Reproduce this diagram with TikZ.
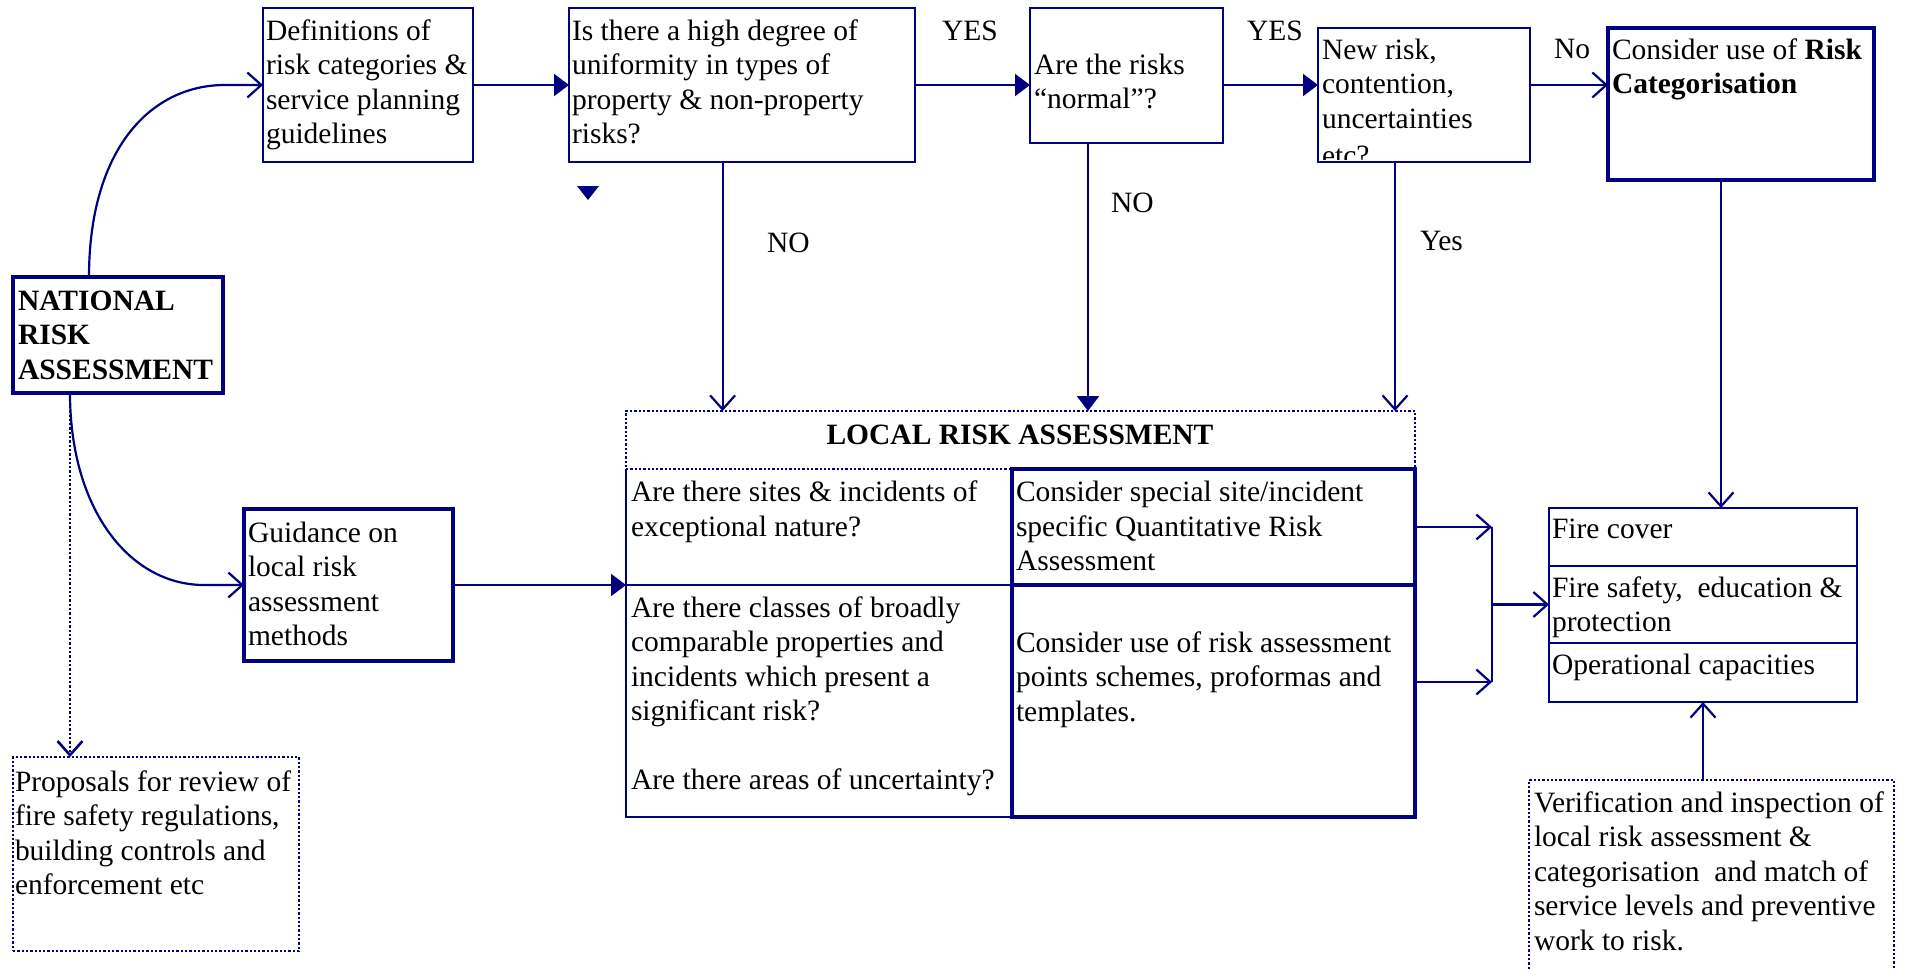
\documentclass[tikz,border=0pt]{standalone}
\usepackage{fontspec}
\setmainfont{Liberation Serif}
\usetikzlibrary{arrows.meta,calc}
\definecolor{navyline}{RGB}{0,0,128}
\newcommand\bodyfont{\fontsize{29.5}{34.5}\selectfont}
\begin{document}
\begin{tikzpicture}[x=1pt,y=-1pt,
  every node/.style={inner sep=0pt, outer sep=0pt},
  box/.style={draw=navyline, line width=2.2pt, anchor=north west},
  thickbox/.style={box, line width=4.5pt},
  dotted line/.style={line width=2.6pt, dash pattern=on 2.3pt off 2pt},
  dotbox/.style={box, dotted line},
  plainbox/.style={anchor=north west},
  txt/.style={anchor=north west, align=left, font=\bodyfont},
  lbl/.style={anchor=base west, font=\bodyfont},
  conn/.style={draw=navyline, line width=2.2pt},
  opentip/.style={conn, -{Straight Barb[length=14pt,width=25pt]}},
  filltip/.style={conn, -{Triangle[length=15pt,width=22pt]}},
]
\useasboundingbox (0,0) rectangle (1907,969);
\fill[white] (0,0) rectangle (1907,969);

% x positions of the vertical connectors
\coordinate (xa) at (89,0);
\coordinate (xn) at (70,0);
\coordinate (xq1) at (722.6,0);
\coordinate (xq2) at (1088,0);
\coordinate (xq3) at (1395,0);
\coordinate (xr) at (1721,0);
\coordinate (xm) at (1492,0);
\coordinate (xv) at (1703,0);
\coordinate (ym2) at (0,682);

% top row
\node[box, minimum width=210pt, minimum height=154pt] (def) at (263,8) {};
\node[box, minimum width=346pt, minimum height=154pt] (q1) at (569,8) {};
\node[box, minimum width=193pt, minimum height=135pt] (q2) at (1030,8) {};
\node[box, minimum width=212pt, minimum height=134pt] (q3) at (1318,28) {};
\node[thickbox, minimum width=266pt, minimum height=152pt] (rcat) at (1608,28) {};

% left column
\node[thickbox, minimum width=210pt, minimum height=116pt] (nat) at (13,277) {};
\node[thickbox, minimum width=209pt, minimum height=152pt] (guid) at (244,509) {};
\node[dotbox, minimum width=286pt, minimum height=194pt] (prop) at (13,757) {};

% local risk assessment block
\node[dotbox, minimum width=789pt, minimum height=58pt] (lra) at (626,411) {};
\node[plainbox, minimum width=386pt, minimum height=116pt] (lc1) at (626,469) {};
\node[plainbox, minimum width=386pt, minimum height=232pt] (lc2) at (626,585) {};
\draw[conn] (lc1.north west) -- (lc2.south west) -- (lc2.south east);
\draw[conn] (lc1.south west) -- (lc1.south east);
\node[thickbox, minimum width=403pt, minimum height=116pt] (rc1) at (1012,469) {};
\node[thickbox, minimum width=403pt, minimum height=232pt] (rc2) at (1012,585) {};

% outputs
\node[box, minimum width=308pt, minimum height=58pt] (fb1) at (1549,508) {};
\node[box, minimum width=308pt, minimum height=77pt] (fb2) at (1549,566) {};
\node[box, minimum width=308pt, minimum height=59pt] (fb3) at (1549,643) {};
\node[dotbox, minimum width=365pt, minimum height=210pt] (verif) at (1529,780) {};

% texts (top = first baseline - 24.15)
\node[txt] (deft) at (266,15.85) {\strut Definitions of\\risk categories \&\\service planning\\guidelines};
\node[txt] (q1t) at (572,15.85) {\strut Is there a high degree of\\uniformity in types of\\property \& non-property\\risks?};
\node[txt] (q2t) at (1034,49.85) {\strut Are the risks\\“normal”?};
\begin{scope}
  \clip (1318,28) rectangle (1530,159);
  \node[txt] (q3t) at (1322,34.85) {\strut New risk,\\contention,\\uncertainties\\[2.5pt]etc?};
\end{scope}
\node[txt] (rct) at (1612,34.85) {\strut Consider use of \textbf{Risk}\\\textbf{Categorisation}};
\node[txt, font=\bodyfont\bfseries] (natt) at (18,285.85) {\strut NATIONAL\\RISK\\ASSESSMENT};
\node[txt] (guidt) at (248,517.85) {\strut Guidance on\\local risk\\assessment\\methods};
\node[txt] (propt) at (15,766.85) {\strut Proposals for review of\\fire safety regulations,\\building controls and\\enforcement etc};
\node[anchor=base, font=\bodyfont\bfseries] (lrat) at (1020,444) {LOCAL RISK ASSESSMENT};
\node[txt] (lc1t) at (631,477.35) {\strut Are there sites \& incidents of\\exceptional nature?};
\node[txt] (lc2t) at (631,592.85) {\strut Are there classes of broadly\\comparable properties and\\incidents which present a\\significant risk?\\[34.5pt]Are there areas of uncertainty?};
\node[txt] (rc1t) at (1016,477.35) {\strut Consider special site/incident\\specific Quantitative Risk\\Assessment};
\node[txt] (rc2t) at (1016,627.85) {\strut Consider use of risk assessment\\points schemes, proformas and\\templates.};
\node[txt] (fb1t) at (1552,514.35) {\strut Fire cover};
\node[txt] (fb2t) at (1552,572.85) {\strut Fire safety,\ \ education \&\\protection};
\node[txt] (fb3t) at (1552,649.85) {\strut Operational capacities};
\node[txt] (veritt) at (1534,787.85) {\strut Verification and inspection of\\local risk assessment \&\\categorisation\ \ and match of\\service levels and preventive\\work to risk.};

% connector labels
\node[lbl] (yes1) at (942,40) {YES};
\node[lbl] (yes2) at (1247,40) {YES};
\node[lbl] (no1) at (1554,58) {No};
\node[lbl] (no2) at (767,252) {NO};
\node[lbl] (no3) at (1111,212) {NO};
\node[lbl] (yes3) at (1420,250) {Yes};

% top row flow
\draw[opentip] (nat.north -| xa) .. controls (89,150) and (150,85) .. (225,85) -- (def.west);
\draw[filltip] (def.east) -- (q1.west);
\draw[filltip] (q1.east) -- (q2.west |- q1.east);
\draw[filltip] (q2.east |- q1.east) -- (q3.west |- q1.east);
\draw[opentip] (q3.east |- q1.east) -- (rcat.west |- q1.east);
\fill[navyline] (577,186) -- (599,186) -- (588,200) -- cycle;

% drops into the local assessment
\draw[opentip] (q1.south -| xq1) -- (lra.north -| xq1);
\draw[filltip] (q2.south -| xq2) -- (lra.north -| xq2);
\draw[opentip] (q3.south -| xq3) -- (lra.north -| xq3);
\draw[opentip] (rcat.south -| xr) -- (fb1.north -| xr);

% national assessment outputs
\draw[opentip, dotted line] (nat.south -| xn) -- (prop.north -| xn);
\draw[opentip] (nat.south -| xn) .. controls (70,510) and (130,585) .. (204,585) -- (guid.west);
\draw[filltip] (guid.east) -- (lc1.south west);

% merge into the outputs
\draw[opentip] (rc1.east) -- (rc1.east -| xm);
\draw[opentip] (rc2.east |- ym2) -- (xm |- ym2);
\draw[conn] (xm |- rc1.east) -- (xm |- ym2);
\draw[opentip] (xm |- fb2.west) -- (fb2.west);
\draw[opentip] (verif.north -| xv) -- (fb3.south -| xv);
\end{tikzpicture}
\end{document}
